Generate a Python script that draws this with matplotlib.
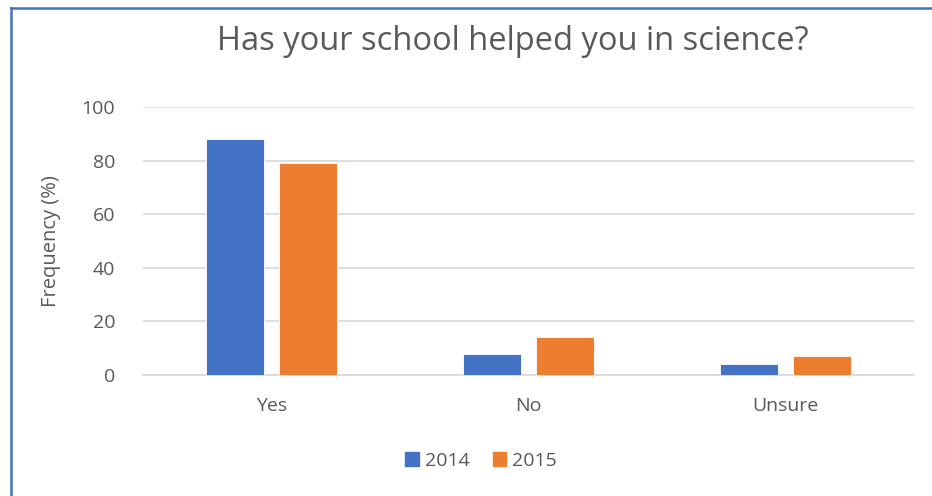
import matplotlib.pyplot as plt
import numpy as np
from matplotlib.lines import Line2D
from matplotlib.patches import Patch

categories = ['Yes', 'No', 'Unsure']
years = ['2014', '2015']
vals_2014 = [88, 8, 4]
vals_2015 = [79, 14, 7]
yticks = [0, 20, 40, 60, 80, 100]

plt.rcParams['font.family'] = ['Open Sans', 'DejaVu Sans']
grey = '#595959'
colors = ['#4472C4', '#ED7D31']

fig = plt.figure(figsize=(9.32, 4.96), dpi=100)
W, H = 932, 496
ax = fig.add_axes([143 / W, 1 - 375 / H, (914 - 143) / W, (375 - 107) / H])

x = np.arange(len(categories))
bw = 0.222
off = 0.142
ax.bar(x - off, vals_2014, bw, color=colors[0], edgecolor='white', linewidth=0.6, zorder=3)
ax.bar(x + off, vals_2015, bw, color=colors[1], edgecolor='white', linewidth=0.6, zorder=3)

ax.set_xlim(-0.5, 2.5)
ax.set_ylim(0, 100)
ax.set_yticks(yticks)
ax.set_xticks(x)
ax.set_xticklabels(categories)
ax.grid(axis='y', color='#d9d9d9', linewidth=1.2, zorder=0)
for s in ['top', 'right', 'left']:
    ax.spines[s].set_visible(False)
ax.spines['bottom'].set_color('#d9d9d9')
ax.spines['bottom'].set_linewidth(1.2)
ax.tick_params(length=0, labelsize=14, colors=grey)
ax.tick_params(axis='x', pad=16)
ax.tick_params(axis='y', pad=20)
ax.set_ylabel('Frequency (%)', fontsize=14.5, color=grey, labelpad=15)

fig.text(513 / W, 1 - 42 / H, 'Has your school helped you in science?', ha='center', va='center',
         fontsize=23.5, color=grey)

handles = [Patch(color=c) for c in colors]
fig.legend(handles, years, loc='center', bbox_to_anchor=(481 / W, 1 - 461 / H), ncol=2,
           frameon=False, fontsize=14, labelcolor=grey, handlelength=0.7, handleheight=0.7,
           handletextpad=0.3, columnspacing=1.2)

# chart frame (left and top edges visible)
fig.add_artist(Line2D([11 / W, 11 / W], [0, 1 - 8 / H], color='#4472C4', linewidth=1.8))
fig.add_artist(Line2D([11 / W, 1], [1 - 8 / H, 1 - 8 / H], color='#4472C4', linewidth=1.8))

fig.savefig('out.png', dpi=100, facecolor='white')
